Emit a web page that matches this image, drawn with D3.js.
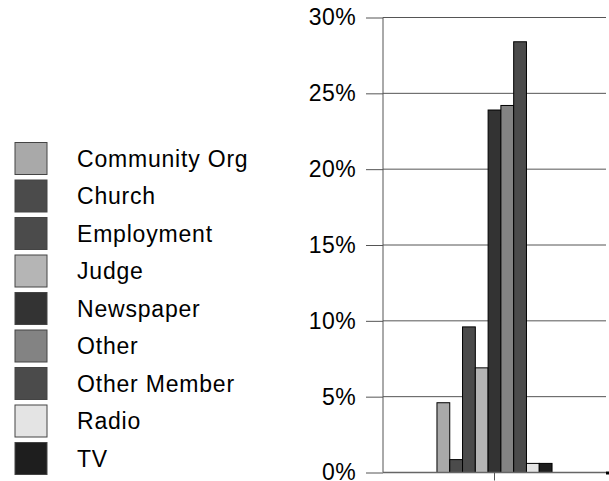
<!DOCTYPE html>
<html>
<head>
<meta charset="utf-8">
<script src="https://cdn.jsdelivr.net/npm/d3@7"></script>
<style>
  html, body { margin: 0; padding: 0; background: #fff; }
  svg { display: block; }
  text { font-family: "Liberation Sans", Arial, sans-serif; fill: #000; }
</style>
</head>
<body>
<svg id="chart" width="609" height="481"></svg>
<script>
// Referral sources and their share of responses (percent)
const categories = [""];
const seriesNames = ["Community Org", "Church", "Employment", "Judge", "Newspaper",
                     "Other", "Other Member", "Radio", "TV"];
const seriesValues = [4.6, 0.85, 9.6, 6.9, 23.9, 24.2, 28.4, 0.6, 0.6];
const seriesColors = ["#a9a9a9", "#4b4b4b", "#4b4b4b", "#b5b5b5", "#333333",
                      "#838383", "#4b4b4b", "#e4e4e4", "#1e1e1e"];
const yTicks = [0, 5, 10, 15, 20, 25, 30];

const svg = d3.select("#chart");

const plot = { left: 383, right: 606, top: 17.5, bottom: 472.5 };

const y = d3.scaleLinear().domain([0, 30]).range([plot.bottom, plot.top]);

const x0 = d3.scaleBand().domain(categories)
  .range([plot.left, plot.right]).paddingInner(0.484).paddingOuter(0.242);
const x1 = d3.scaleBand().domain(seriesNames).range([0, x0.bandwidth()]);

// horizontal gridlines with left ticks
const yAxis = d3.axisLeft(y).tickValues(yTicks).tickFormat(d => d + "%")
  .tickSize(17).tickPadding(10);
const gy = svg.append("g").attr("transform", `translate(${plot.left},0)`).call(yAxis);
gy.select(".domain").remove();
gy.selectAll(".tick line").attr("stroke", "#555");
gy.selectAll(".tick text").style("font-size", "23px").style("letter-spacing", "0.4px")
  .attr("fill", "#000").attr("font-family", null);

svg.append("g").selectAll("line").data(yTicks.filter(d => d > 0)).join("line")
  .attr("x1", plot.left).attr("x2", plot.right)
  .attr("y1", d => y(d)).attr("y2", d => y(d))
  .attr("stroke", "#555").attr("stroke-width", 1);

// vertical value axis line
svg.append("line")
  .attr("x1", plot.left).attr("x2", plot.left)
  .attr("y1", y(30)).attr("y2", y(0))
  .attr("stroke", "#555");

// bars
const bars = svg.append("g")
  .attr("transform", `translate(${x0(categories[0])},0)`);
bars.selectAll("rect").data(seriesNames.map((n, i) => ({ n, v: seriesValues[i], c: seriesColors[i] })))
  .join("rect")
  .attr("x", d => x1(d.n))
  .attr("width", x1.bandwidth())
  .attr("y", d => y(d.v))
  .attr("height", d => y(0) - y(d.v))
  .attr("fill", d => d.c)
  .attr("stroke", "#000")
  .attr("stroke-width", 1);

// category axis
const xAxis = d3.axisBottom(x0).tickSize(8).tickFormat("");
const gx = svg.append("g").attr("transform", `translate(0,${y(0)})`).call(xAxis);
gx.select(".domain").attr("stroke", "#666").attr("stroke-width", 1.5)
  .attr("d", `M${plot.left},0H${plot.right}`);
gx.selectAll(".tick line").attr("stroke", "#555");
svg.append("rect").attr("x", 606).attr("y", y(0) - 1).attr("width", 3).attr("height", 3).attr("fill", "#000");

// legend
const legend = svg.append("g").attr("transform", "translate(15,142.5)");
const rows = legend.selectAll("g").data(seriesNames).join("g")
  .attr("transform", (d, i) => `translate(0,${i * 37.5})`);
rows.append("rect")
  .attr("width", 32).attr("height", 32)
  .attr("fill", (d, i) => seriesColors[i])
  .attr("stroke", "#444").attr("stroke-width", 1);
rows.append("text")
  .attr("x", 62).attr("y", 16).attr("dy", "0.35em")
  .style("font-size", "23px").style("letter-spacing", "0.8px")
  .text(d => d);
</script>
</body>
</html>
